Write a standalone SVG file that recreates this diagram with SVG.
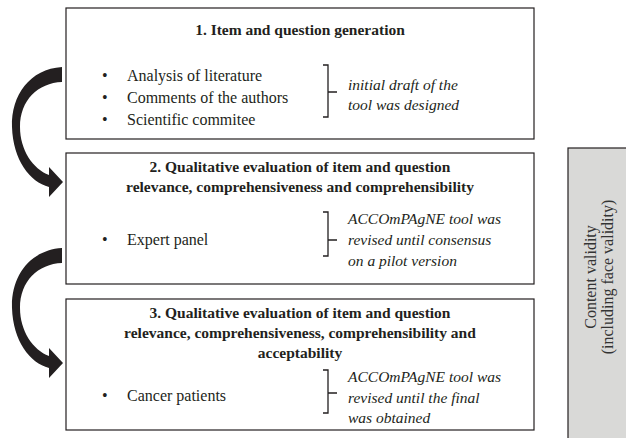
<svg xmlns="http://www.w3.org/2000/svg" width="626" height="438" viewBox="0 0 626 438">
<style>
.box{fill:#fff;stroke:#231f20;stroke-width:1.2}
.t{font-family:"Liberation Serif",serif;fill:#231f20}
.title{font-size:15.5px;font-weight:bold;text-anchor:middle}
.item{font-size:16px}
.note{font-size:15.5px;font-style:italic}
.brace{fill:none;stroke:#231f20;stroke-width:1.3}
.arrow{fill:#231f20}
.side{fill:#d9d9d7;stroke:#231f20;stroke-width:1.2}
.sidet{font-size:16px;text-anchor:middle;fill:#333}
</style>
<defs>
<path id="carrow" d="M62,67 C30,69 11,95 12,127 C13,160 30,182 49,187 L49,197 L63,182 L49,167 L49,175 C33,169 20,150 20,127 C20,100 38,83 62,82 Z"/>
</defs>
<g id="connectors">
<use href="#carrow" class="arrow"/>
<use href="#carrow" class="arrow" transform="translate(0,181)"/>
</g>
<g id="node1">
<rect class="box" x="66" y="8" width="468" height="131"/>
<text class="t title" x="300" y="35">1. Item and question generation</text>
<text class="t item" x="102" y="81">•</text>
<text class="t item" x="127" y="81">Analysis of literature</text>
<text class="t item" x="102" y="103">•</text>
<text class="t item" x="127" y="103">Comments of the authors</text>
<text class="t item" x="102" y="125">•</text>
<text class="t item" x="127" y="125">Scientific commitee</text>
<path class="brace" d="M323,65 H328 V117 H323 M328,92 H337"/>
<text class="t note" x="348" y="90">initial draft of the</text>
<text class="t note" x="348" y="110">tool was designed</text>
</g>
<g id="node2">
<rect class="box" x="66" y="153" width="468" height="131"/>
<text class="t title" x="300" y="172">2. Qualitative evaluation of item and question</text>
<text class="t title" x="300" y="192">relevance, comprehensiveness and comprehensibility</text>
<text class="t item" x="102" y="245">•</text>
<text class="t item" x="127" y="245">Expert panel</text>
<path class="brace" d="M323,212 H328 V256 H323 M328,240 H337"/>
<text class="t note" x="348" y="224">ACCOmPAgNE tool was</text>
<text class="t note" x="348" y="245">revised until consensus</text>
<text class="t note" x="348" y="266">on a pilot version</text>
</g>
<g id="node3">
<rect class="box" x="66" y="299" width="468" height="131"/>
<text class="t title" x="300" y="318">3. Qualitative evaluation of item and question</text>
<text class="t title" x="300" y="338">relevance, comprehensiveness, comprehensibility and</text>
<text class="t title" x="300" y="358">acceptability</text>
<text class="t item" x="102" y="401">•</text>
<text class="t item" x="127" y="401">Cancer patients</text>
<path class="brace" d="M323,370 H328 V413 H323 M328,393 H337"/>
<text class="t note" x="348" y="382">ACCOmPAgNE tool was</text>
<text class="t note" x="348" y="403">revised until the final</text>
<text class="t note" x="348" y="423">was obtained</text>
</g>
<g id="node4">
<rect class="side" x="568" y="148" width="70" height="300"/>
<g transform="translate(596,277) rotate(-90)">
<text class="t sidet" x="0" y="0">Content validity</text>
<text class="t sidet" x="0" y="17">(including face validity)</text>
</g>
</g>
</svg>
